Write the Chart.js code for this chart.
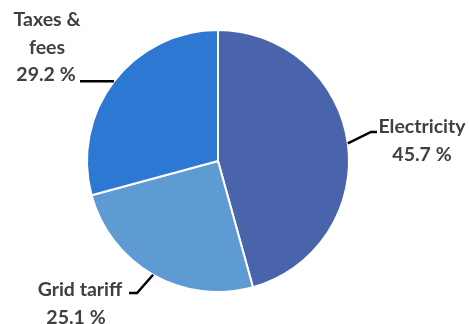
<!DOCTYPE html>
<html>
<head>
<meta charset="utf-8">
<script src="https://cdn.jsdelivr.net/npm/chart.js@4"></script>
<style>
  html, body { margin: 0; padding: 0; background: #ffffff; }
  #wrap { width: 469px; height: 324px; position: relative; }
</style>
</head>
<body>
<div id="wrap"><canvas id="pie" width="469" height="324"></canvas></div>
<script>
// Share of the consumer price by component (%)
const categories = ['Electricity', 'Grid tariff', 'Taxes & fees'];
const shares = [45.7, 25.1, 29.2];
const sliceColors = ['#4A64AC', '#5F9BD3', '#2C78D3'];

// Label text lines for each slice
const labelLines = [
  ['Electricity', '45.7 %'],
  ['Grid tariff', '25.1 %'],
  ['Taxes &', 'fees', '29.2 %']
];

const FONT = 'bold 19.5px Lato, "Liberation Sans", sans-serif';
const TEXT_COLOR = '#404040';

const calloutPlugin = {
  id: 'callouts',
  afterDatasetsDraw(chart) {
    const ctx = chart.ctx;
    const arcs = chart.getDatasetMeta(0).data;
    ctx.save();
    ctx.font = FONT;
    ctx.fillStyle = TEXT_COLOR;
    ctx.textAlign = 'center';
    ctx.textBaseline = 'middle';
    ctx.strokeStyle = '#000000';
    ctx.lineWidth = 2.5;

    // point on the rim at the middle of arc i
    const rim = (i) => {
      const a = arcs[i];
      const ang = (a.startAngle + a.endAngle) / 2;
      return { x: a.x + Math.cos(ang) * a.outerRadius, y: a.y + Math.sin(ang) * a.outerRadius };
    };

    // Electricity
    let p = rim(0);
    ctx.beginPath();
    ctx.moveTo(p.x, p.y);
    ctx.lineTo(371, 132);
    ctx.lineTo(377, 132);
    ctx.stroke();
    ctx.fillText(labelLines[0][0], 422, 127);
    ctx.fillText(labelLines[0][1], 422, 155);

    // Grid tariff
    p = rim(1);
    ctx.beginPath();
    ctx.moveTo(p.x, p.y);
    ctx.lineTo(137, 293);
    ctx.lineTo(129, 293);
    ctx.stroke();
    ctx.fillText(labelLines[1][0], 80, 290);
    ctx.fillText(labelLines[1][1], 76, 318);

    // Taxes & fees
    p = rim(2);
    ctx.beginPath();
    ctx.moveTo(p.x, p.y);
    ctx.lineTo(80, p.y);
    ctx.stroke();
    ctx.fillText(labelLines[2][0], 47, 20);
    ctx.fillText(labelLines[2][1], 47, 48);
    ctx.fillText(labelLines[2][2], 46, 75);
    ctx.restore();
  }
};

new Chart(document.getElementById('pie'), {
  type: 'pie',
  data: {
    labels: categories,
    datasets: [{
      data: shares,
      backgroundColor: sliceColors,
      borderColor: '#ffffff',
      borderWidth: 2
    }]
  },
  options: {
    responsive: false,
    animation: false,
    layout: { padding: { left: 86, right: 119, top: 29, bottom: 31 } },
    plugins: {
      legend: { display: false },
      tooltip: { enabled: false }
    }
  },
  plugins: [calloutPlugin]
});
</script>
</body>
</html>
